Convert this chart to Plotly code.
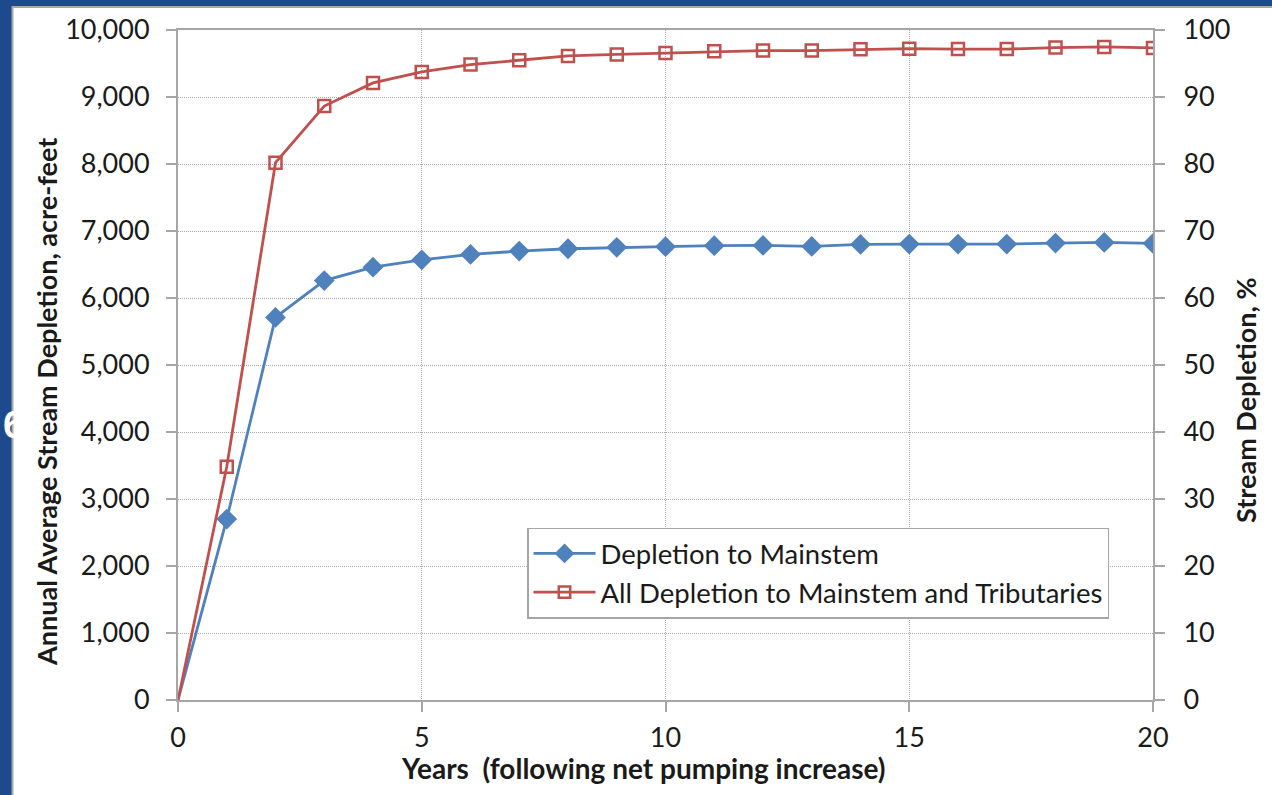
import plotly.graph_objects as go

years = list(range(0, 21))
mainstem = [0, 2700, 5710, 6260, 6460, 6570, 6650, 6700, 6735, 6756, 6766,
            6781, 6785, 6770, 6800, 6805, 6805, 6805, 6820, 6830, 6815]
all_depletion = [0, 3480, 8020, 8865, 9210, 9375, 9484, 9549, 9613, 9635, 9655,
                 9683, 9693, 9693, 9712, 9722, 9715, 9715, 9737, 9747, 9732]
pct_axis_range = [0, 100]
left_ticks = list(range(0, 10001, 1000))
right_ticks = list(range(0, 101, 10))

x_title = "Years\u00a0 (following net pumping increase)"
y_title = "Annual Average Stream Depletion, acre-feet"
y2_title = "Stream Depletion, %"

FONT = "Lato"
BLUE = "#4F81BD"
RED = "#C0504D"
GRID = "#A6A6A6"
TXT = "#1a1a1a"

# no marker drawn at the origin point (as in the original)
blue_sizes = [0] + [16] * (len(years) - 1)
red_sizes = [0] + [12] * (len(years) - 1)

fig = go.Figure()
fig.add_trace(go.Scatter(
    x=years, y=mainstem, name="Depletion to Mainstem",
    mode="lines+markers",
    line=dict(color=BLUE, width=2.8),
    marker=dict(symbol="diamond", size=blue_sizes, color=BLUE, opacity=1,
                line=dict(width=0, color=BLUE)),
))
fig.add_trace(go.Scatter(
    x=years, y=all_depletion, name="All Depletion to Mainstem and Tributaries",
    mode="lines+markers",
    line=dict(color=RED, width=2.8),
    marker=dict(symbol="square-open", size=red_sizes, color=RED, opacity=1,
                line=dict(width=2.5, color=RED)),
))
# helper trace to activate the secondary (percent) axis
fig.add_trace(go.Scatter(
    x=[years[0], years[-1]], y=pct_axis_range, yaxis="y2", mode="markers",
    marker=dict(opacity=0), showlegend=False, hoverinfo="skip",
))

L, R, T, B = 178, 119, 28, 95
W, H = 1272, 795
pw, ph = W - L - R, H - T - B

def px_x(p):
    return (p - L) / pw

def px_y(p):
    return (H - B - p) / ph

fig.add_shape(type="rect", xref="paper", yref="paper",
              x0=px_x(12.5), x1=px_x(1290), y0=px_y(810), y1=px_y(5),
              fillcolor="white", line=dict(color="#A8A8A8", width=2), layer="below")

# white slide text glyph partly hidden behind the chart (white on white is invisible)
fig.add_annotation(text="<b>6</b>", xref="paper", yref="paper",
                   x=px_x(1), y=px_y(424), xanchor="left", yanchor="middle",
                   showarrow=False, font=dict(family="Liberation Sans", size=38, color="white"))

tick_font = dict(size=27, family=FONT, color=TXT)
title_font = dict(size=28, family=FONT, color=TXT)

fig.add_annotation(text="<b>" + x_title + "</b>", xref="paper", yref="paper",
                   x=px_x(643), y=px_y(768), xanchor="center", yanchor="middle",
                   showarrow=False, font=title_font)
fig.add_annotation(text="<b>" + y_title + "</b>", xref="paper", yref="paper",
                   x=px_x(47), y=px_y(401), xanchor="center", yanchor="middle",
                   textangle=-90, showarrow=False, font=dict(size=27, family=FONT, color=TXT))
fig.add_annotation(text="<b>" + y2_title + "</b>", xref="paper", yref="paper",
                   x=px_x(1246), y=px_y(400), xanchor="center", yanchor="middle",
                   textangle=-90, showarrow=False, font=dict(size=27, family=FONT, color=TXT))

fig.update_layout(
    width=W, height=H,
    margin=dict(l=L, r=R, t=T, b=B),
    paper_bgcolor="#1C4A8C",
    plot_bgcolor="white",
    font=dict(family=FONT, color=TXT, size=26),
    xaxis=dict(
        range=[0, 20], dtick=5, tick0=0,
        showgrid=True, gridcolor=GRID, griddash="1px,1px", gridwidth=1,
        showline=True, linecolor=GRID, linewidth=2, mirror=True,
        ticks="outside", ticklen=10, tickcolor=GRID, tickwidth=1.5,
        ticklabelstandoff=3,
        tickfont=tick_font,
        zeroline=False,
    ),
    yaxis=dict(
        range=[0, 10000], tickvals=left_ticks, tickformat=",d",
        showgrid=True, gridcolor=GRID, griddash="1px,1px", gridwidth=1,
        showline=True, linecolor=GRID, linewidth=2, mirror=True,
        ticks="outside", ticklen=10, tickcolor=GRID, tickwidth=1.5,
        ticklabelstandoff=11,
        tickfont=tick_font,
        zeroline=False,
    ),
    yaxis2=dict(
        range=pct_axis_range, tickvals=right_ticks, overlaying="y", side="right",
        showgrid=False, showline=True, linecolor=GRID, linewidth=2,
        ticks="outside", ticklen=10, tickcolor=GRID, tickwidth=1.5,
        ticklabelstandoff=13,
        tickfont=tick_font,
        zeroline=False,
    ),
    legend=dict(
        x=px_x(527), y=px_y(527), xanchor="left", yanchor="top",
        bgcolor="white", bordercolor=GRID, borderwidth=1.5,
        font=dict(size=27.5, family=FONT, color=TXT),
        itemwidth=62, tracegroupgap=0,
    ),
    showlegend=True,
)

fig.write_html("out.html", config={"displayModeBar": False},
               post_script="document.body.style.margin='0px';")
